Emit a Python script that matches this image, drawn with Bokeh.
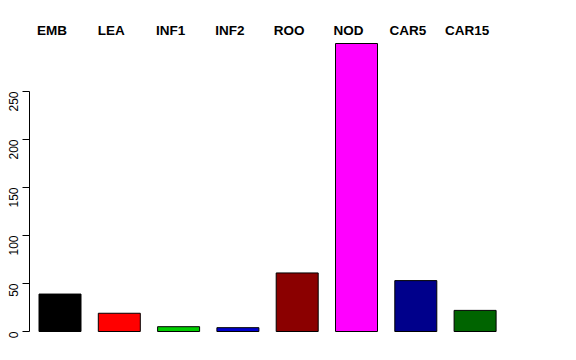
import math
from bokeh.plotting import figure
from bokeh.models import ColumnDataSource, LinearAxis, FixedTicker
from bokeh.core.properties import value
from bokeh.embed import file_html
from bokeh.resources import INLINE

categories = ["EMB", "LEA", "INF1", "INF2", "ROO", "NOD", "CAR5", "CAR15"]
values = [39, 19, 5, 4, 61, 300, 53, 22]
colors = ["#000000", "#FF0000", "#00CD00", "#0000CD", "#8B0000", "#FF00FF", "#00008B", "#006400"]
y_ticks = [0, 50, 100, 150, 200, 250]

W, H = 576, 360
left = 29
px_per_unit_y = 0.96
zero_px = 331
step_px = 59.3
first_center_px = 59.5

x_start = -(first_center_px - left) / step_px
x_end = x_start + (W - left) / step_px
y_start = -(H - zero_px) / px_per_unit_y
y_end = zero_px / px_per_unit_y

p = figure(width=W, height=H, output_backend="svg", toolbar_location=None,
           x_range=(x_start, x_end), y_range=(y_start, y_end),
           min_border_left=left, min_border_right=0, min_border_top=0, min_border_bottom=0,
           x_axis_location=None, y_axis_location=None)
p.outline_line_color = None
p.xgrid.visible = False
p.ygrid.visible = False
p.background_fill_color = "white"
p.border_fill_color = "white"

idx = list(range(len(categories)))
src = ColumnDataSource(dict(x=idx, top=values, color=colors, cat=categories,
                            lx=[i - 8 / step_px for i in idx],
                            ly=[(zero_px - 30) / px_per_unit_y] * len(idx)))
p.vbar(x="x", top="top", bottom=0, width=42 / step_px, fill_color="color",
       line_color="#000000", line_width=1, source=src)

p.text(x="lx", y="ly", text="cat", source=src, text_align="center", text_baseline="middle",
       text_font=value("Liberation Sans"), text_font_style="bold", text_font_size="13.5px",
       text_color="#000000")

yaxis = LinearAxis(bounds=(0, 250), ticker=FixedTicker(ticks=y_ticks))
yaxis.major_label_orientation = math.pi / 2
yaxis.major_tick_out = 7
yaxis.major_tick_in = 0
yaxis.minor_tick_out = 0
yaxis.minor_tick_in = 0
yaxis.major_label_standoff = 9
yaxis.major_label_text_font = "Liberation Sans"
yaxis.major_label_text_font_size = "12px"
yaxis.major_label_text_color = "#000000"
yaxis.axis_line_color = "#000000"
yaxis.major_tick_line_color = "#000000"
p.add_layout(yaxis, "left")

open("out.html", "w").write(file_html(p, INLINE))
